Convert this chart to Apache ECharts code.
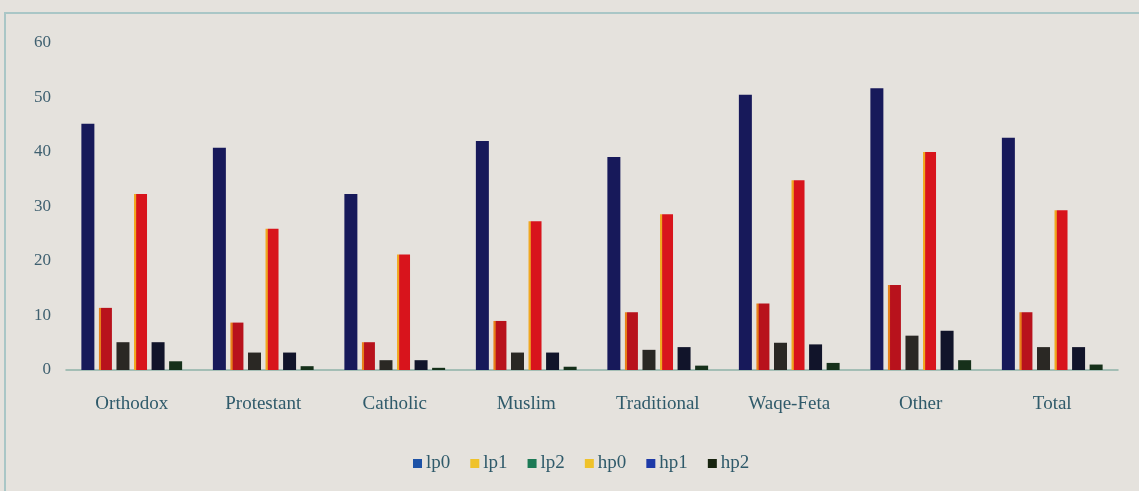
<!DOCTYPE html>
<html>
<head>
<meta charset="utf-8">
<script src="https://cdn.jsdelivr.net/npm/echarts@6/dist/echarts.min.js"></script>
<style>
  html, body { margin: 0; padding: 0; background: #e5e2dd; }
  #chart { width: 1139px; height: 491px; }
</style>
</head>
<body>
<div id="chart"></div>
<script>
// Religion groups along the x axis
const categories = ['Orthodox', 'Protestant', 'Catholic', 'Muslim', 'Traditional', 'Waqe-Feta', 'Other', 'Total'];

// Series values (percent)
const lp0 = [45.2, 40.8, 32.3, 42.0, 39.1, 50.5, 51.7, 42.6];
const lp1 = [11.4, 8.7, 5.1, 9.0, 10.6, 12.2, 15.6, 10.6];
const lp2 = [5.1, 3.2, 1.8, 3.2, 3.7, 5.0, 6.3, 4.2];
const hp0 = [32.3, 25.9, 21.2, 27.3, 28.6, 34.8, 40.0, 29.3];
const hp1 = [5.1, 3.2, 1.8, 3.2, 4.2, 4.7, 7.2, 4.2];
const hp2 = [1.6, 0.7, 0.4, 0.6, 0.8, 1.3, 1.8, 1.0];

const seriesNames = ['lp0', 'lp1', 'lp2', 'hp0', 'hp1', 'hp2'];
const seriesValues = [lp0, lp1, lp2, hp0, hp1, hp2];

// Y axis ticks
const yMin = 0, yMax = 60, yStep = 10;

const FONT = '"Liberation Serif", "DejaVu Serif", serif';
const TEXT = '#2f5a6a';

// Bar fill with a thin warm stripe along its left side
function edged(edge, body) {
  return new echarts.graphic.LinearGradient(0, 0, 1, 0, [
    { offset: 0, color: edge },
    { offset: 0.14, color: edge },
    { offset: 0.2, color: body },
    { offset: 1, color: body }
  ]);
}

const barColors = [
  '#17195a',
  edged('#e8801a', '#b8121c'),
  '#2a2824',
  edged('#f0a820', '#d8141c'),
  '#11142a',
  '#16301a'
];
const legendColors = ['#1d52a6', '#efc22a', '#1c7a55', '#efc22a', '#1e3aa8', '#17240f'];

const chart = echarts.init(document.getElementById('chart'));
chart.setOption({
  backgroundColor: '#e5e2dd',
  animation: false,
  graphic: [{
    type: 'rect',
    shape: { x: 5, y: 13, width: 1160, height: 500 },
    style: { fill: 'none', stroke: '#a9c6c6', lineWidth: 2 },
    silent: true
  }],
  grid: { left: 66, right: 21, top: 43, bottom: 121, containLabel: false },
  legend: {
    bottom: 13,
    left: 408,
    itemWidth: 9,
    itemHeight: 9,
    itemGap: 20,
    icon: 'rect',
    textStyle: { fontFamily: FONT, fontSize: 19, color: TEXT, padding: [0, 0, 0, -1] },
    data: seriesNames.map((n, i) => ({ name: n, itemStyle: { color: legendColors[i] } }))
  },
  xAxis: {
    type: 'category',
    data: categories,
    axisLine: { lineStyle: { color: '#8fb3a8', width: 1.5 } },
    axisTick: { show: false },
    axisLabel: { fontFamily: FONT, fontSize: 19, color: TEXT, margin: 25 }
  },
  yAxis: {
    type: 'value',
    min: yMin,
    max: yMax,
    interval: yStep,
    splitLine: { show: false },
    axisLine: { show: false },
    axisTick: { show: false },
    axisLabel: { fontFamily: FONT, fontSize: 17, color: '#3f6070', margin: 15 }
  },
  series: seriesNames.map((n, i) => ({
    name: n,
    type: 'bar',
    data: seriesValues[i],
    barWidth: 13,
    barGap: '35%',
    itemStyle: { color: barColors[i] }
  }))
});
</script>
</body>
</html>
